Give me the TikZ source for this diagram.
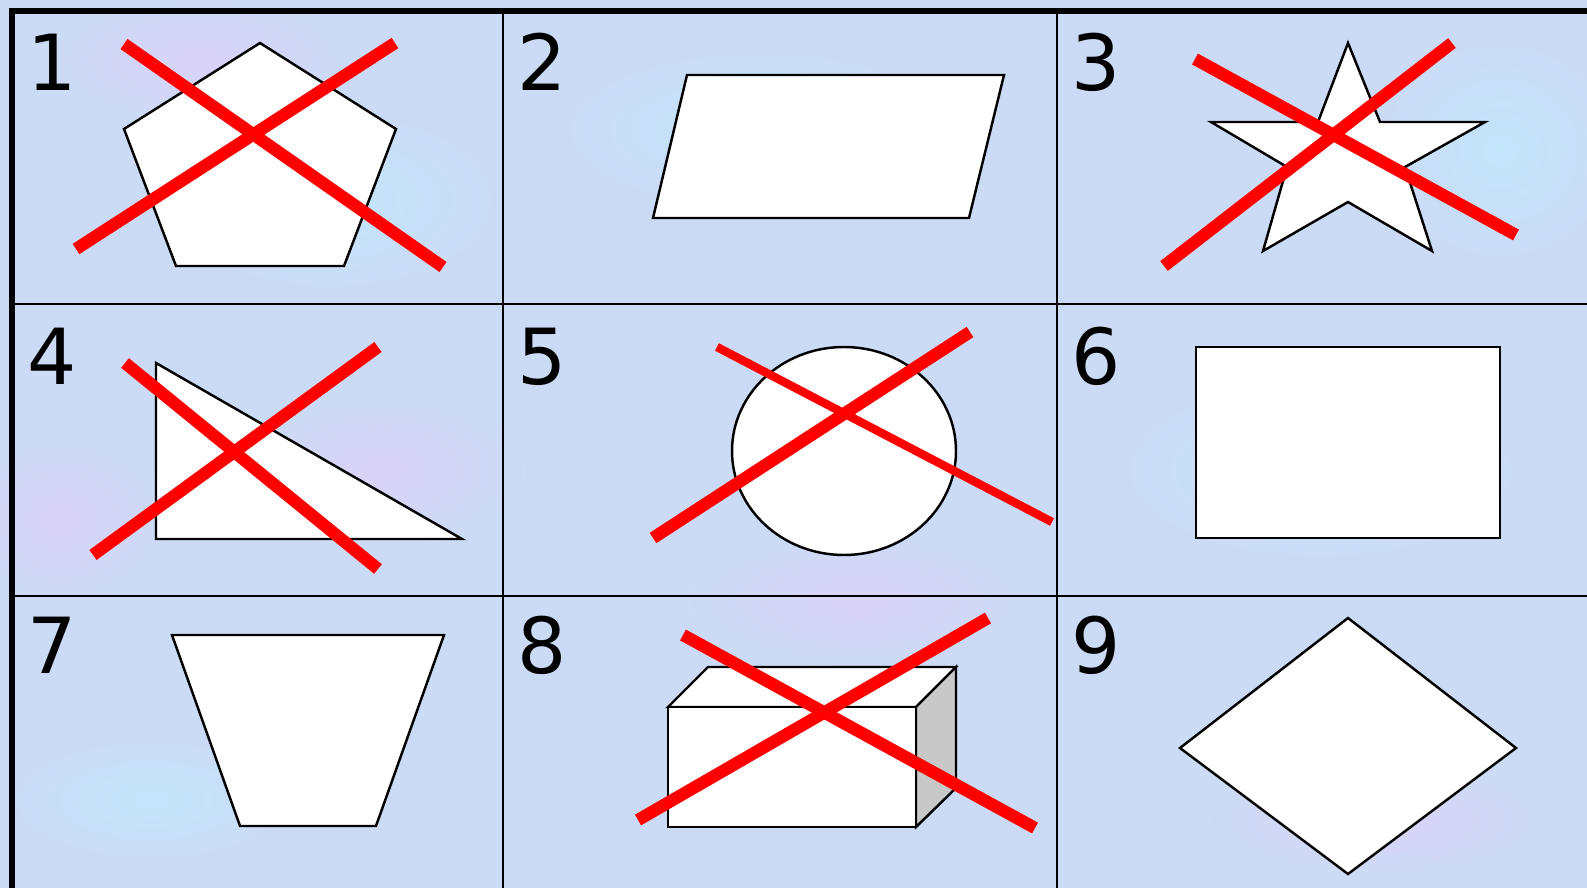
\documentclass[tikz,border=0pt]{standalone}
\usepackage{fontspec}
\setmainfont{DejaVu Sans}

\definecolor{bgbase}{RGB}{203,219,246}
\definecolor{bgcyan}{RGB}{194,229,250}
\definecolor{bglav}{RGB}{218,210,247}
\definecolor{strikered}{RGB}{255,0,0}
\definecolor{sidegray}{RGB}{200,200,200}

\begin{document}
\begin{tikzpicture}[x=0.01cm, y=-0.01cm,
    font=\fontsize{22}{26}\selectfont,
    outline/.style={draw=black, fill=white, line width=0.7pt, line join=miter},
    strike/.style={draw=strikered, line width=3.5pt},
    thinstrike/.style={draw=strikered, line width=2.4pt},
    gridline/.style={draw=black, line width=0.65pt},
    frame/.style={draw=black, line width=1.7pt, line join=miter},
    num/.style={anchor=base west, inner sep=0pt},
  ]
  \useasboundingbox (0,0) rectangle (1587,888);

  % Mottled background.
  \fill[bgbase] (0,0) rectangle (1587,888);
  \foreach \x/\y/\rx/\ry/\c in {
      200/60/160/70/bglav, 330/200/170/90/bgcyan, 760/130/200/80/bgcyan,
      1500/150/120/110/bgcyan, 60/520/110/90/bglav, 380/470/150/80/bglav,
      860/600/180/70/bglav, 1320/470/200/90/bgcyan, 150/800/140/60/bgcyan,
      1380/820/180/60/bglav} {
    \shade[inner color=\c, outer color=bgbase] (\x,\y) ellipse [x radius=\rx, y radius=\ry];
  }

  % Cell 1: pentagon, crossed out.
  \draw[outline] (260,43) -- (396,129) -- (344,266) -- (176,266) -- (124,129) -- cycle;
  \draw[strike] (124,44) -- (443,267);
  \draw[strike] (76,249) -- (395,43);

  % Cell 2: parallelogram.
  \draw[outline] (687,75) -- (1004,75) -- (969,218) -- (653,218) -- cycle;

  % Cell 3: star, crossed out.
  \draw[outline] (1348,43) -- (1380,122) -- (1485,122) -- (1405,167) -- (1432,251)
    -- (1348,202) -- (1263,251) -- (1287,167) -- (1211,122) -- (1318,122) -- cycle;
  \draw[strike] (1195,59) -- (1516,235);
  \draw[strike] (1164,266) -- (1452,43);

  % Cell 4: right triangle, crossed out.
  \draw[outline] (156,363) -- (156,539) -- (462,539) -- cycle;
  \draw[strike] (125,363) -- (378,569);
  \draw[strike] (93,555) -- (378,347);

  % Cell 5: ellipse, crossed out.
  \draw[outline] (844,451) ellipse [x radius=112, y radius=104];
  \draw[thinstrike] (717,347) -- (1052,522);
  \draw[strike] (653,538) -- (970,332);

  % Cell 6: rectangle.
  \draw[outline] (1196,347) rectangle (1500,538);

  % Cell 7: trapezoid.
  \draw[outline] (172,635) -- (444,635) -- (376,826) -- (240,826) -- cycle;

  % Cell 8: box, crossed out.
  \draw[outline] (668,707) -- (708,667) -- (956,667) -- (916,707) -- cycle;
  \draw[outline, fill=sidegray] (916,707) -- (956,667) -- (956,788) -- (916,827) -- cycle;
  \draw[outline] (668,707) rectangle (916,827);
  \draw[strike] (683,635) -- (1035,828);
  \draw[strike] (638,820) -- (988,618);

  % Cell 9: rhombus.
  \draw[outline] (1348,618) -- (1516,748) -- (1348,874) -- (1180,748) -- cycle;

  % Grid and frame.
  \foreach \x in {503,1057} \draw[gridline] (\x,11) -- (\x,892);
  \foreach \y in {304,596} \draw[gridline] (12,\y) -- (1591,\y);
  \draw[frame] (12,892) -- (12,11) -- (1591,11);

  % Cell numbers.
  \foreach \k/\x/\y in {1/27/91, 2/517/91, 3/1071/91,
      4/27/385, 5/517/385, 6/1071/385,
      7/27/673, 8/517/673, 9/1071/673} {
    \node[num] (n\k) at (\x,\y) {\k};
  }
\end{tikzpicture}
\end{document}
